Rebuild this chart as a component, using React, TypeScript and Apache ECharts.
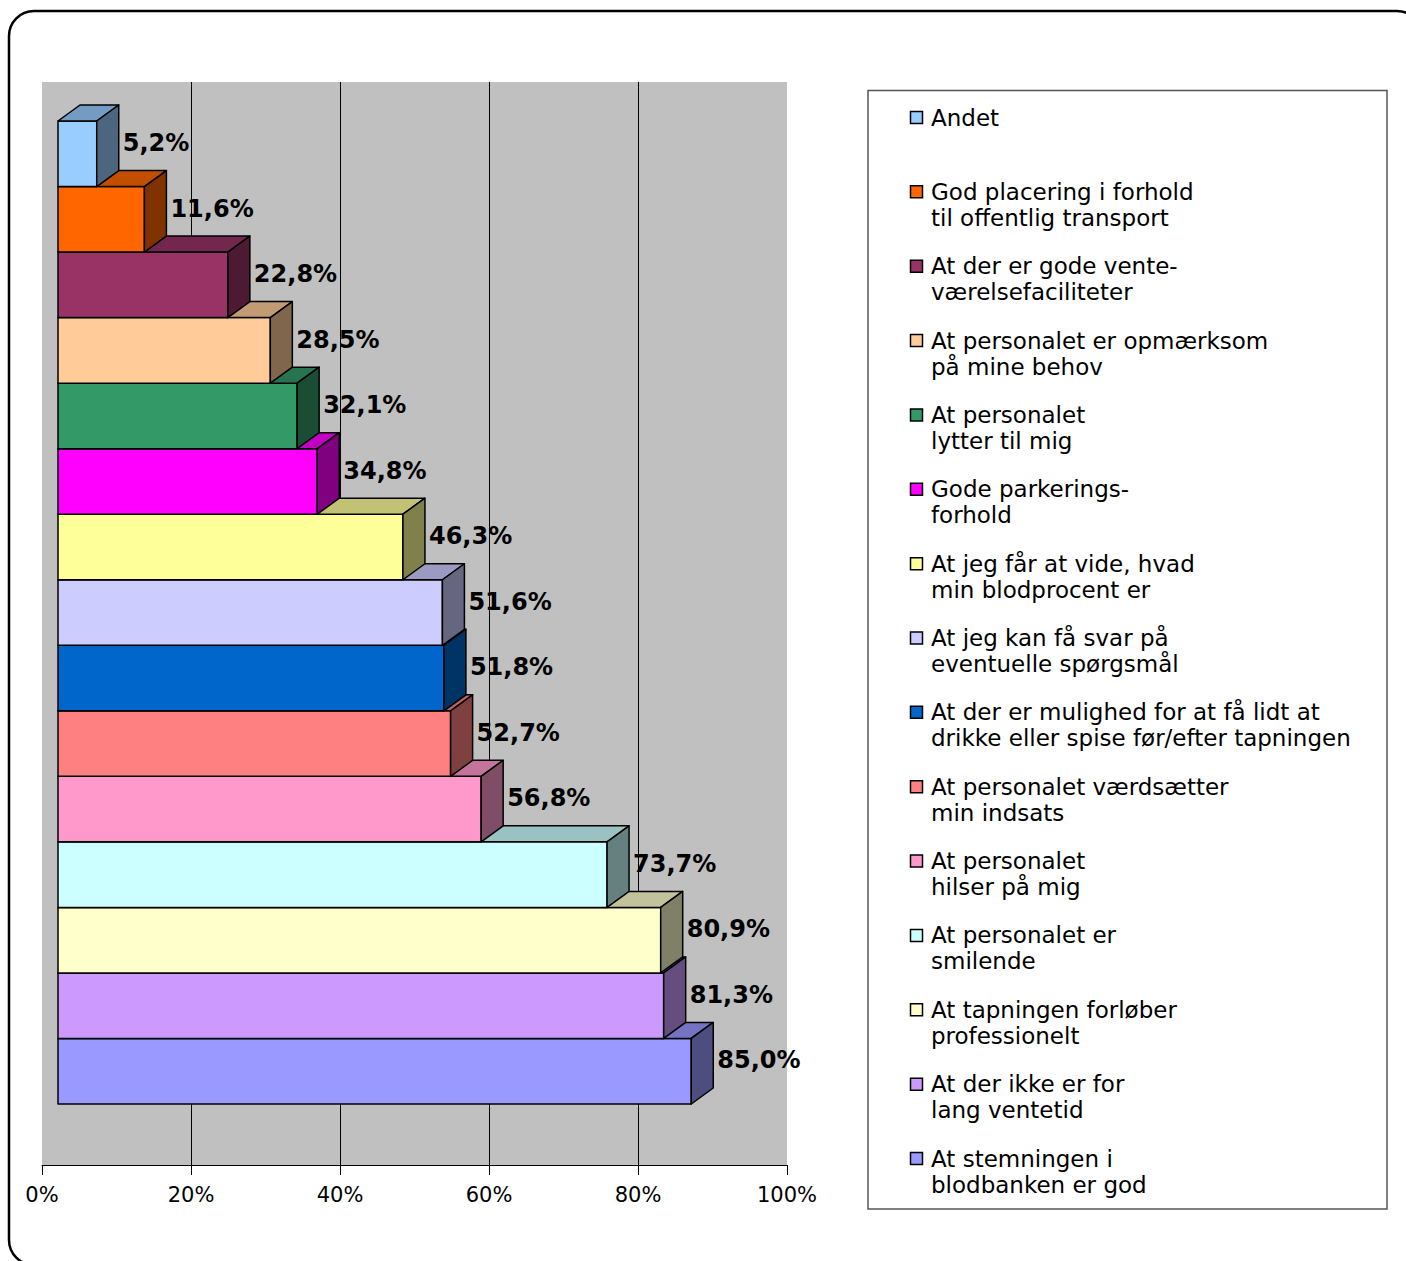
import React, { useEffect, useRef } from "react";
import * as echarts from "echarts";

// Categories listed from top to bottom (same order as the legend)
const categories: string[] = [
  "Andet",
  "God placering i forhold\ntil offentlig transport",
  "At der er gode vente-\nværelsefaciliteter",
  "At personalet er opmærksom\npå mine behov",
  "At personalet\nlytter til mig",
  "Gode parkerings-\nforhold",
  "At jeg får at vide, hvad\nmin blodprocent er",
  "At jeg kan få svar på\neventuelle spørgsmål",
  "At der er mulighed for at få lidt at\ndrikke eller spise før/efter tapningen",
  "At personalet værdsætter\nmin indsats",
  "At personalet\nhilser på mig",
  "At personalet er\nsmilende",
  "At tapningen forløber\nprofessionelt",
  "At der ikke er for\nlang ventetid",
  "At stemningen i\nblodbanken er god",
];

const values: number[] = [5.2, 11.6, 22.8, 28.5, 32.1, 34.8, 46.3, 51.6, 51.8, 52.7, 56.8, 73.7, 80.9, 81.3, 85.0];

const colors: string[] = [
  "#99CCFF",
  "#FF6600",
  "#993366",
  "#FFCC99",
  "#339966",
  "#FF00FF",
  "#FFFF99",
  "#CCCCFF",
  "#0066CC",
  "#FF8080",
  "#FF99CC",
  "#CCFFFF",
  "#FFFFCC",
  "#CC99FF",
  "#9999FF",
];

const axisMin = 0;
const axisMax = 100;
const axisStep = 20;

const FONT = '"DejaVu Sans", Verdana, sans-serif';

function shade(hex: string, f: number): string {
  const n = parseInt(hex.slice(1), 16);
  const r = Math.round(((n >> 16) & 255) * f);
  const g = Math.round(((n >> 8) & 255) * f);
  const b = Math.round((n & 255) * f);
  return "rgb(" + r + "," + g + "," + b + ")";
}

function fmt(v: number): string {
  return v.toFixed(1).replace(".", ",") + "%";
}

export default function App() {
  const ref = useRef<HTMLDivElement>(null);

  useEffect(() => {
    if (!ref.current) return;
    const chart = echarts.init(ref.current, undefined, { renderer: "svg" });

    const FRONT_SHIFT = 16;
    const DX = 22;
    const DY = 16;

    const legendGraphics: any[] = [
      {
        type: "rect",
        shape: { x: 868, y: 90.5, width: 519, height: 1118.5 },
        style: { fill: "#fff", stroke: "#555", lineWidth: 1.5 },
        z: 10,
      },
    ];
    const step = (1158 - 117) / 14;
    categories.forEach((name, i) => {
      const c = 117.5 + i * step;
      legendGraphics.push({
        type: "rect",
        shape: { x: 910.5, y: c - 6, width: 12, height: 12 },
        style: { fill: colors[i], stroke: "#000", lineWidth: 1.5 },
        z: 11,
      });
      legendGraphics.push({
        type: "text",
        x: 931,
        y: c - 13,
        style: {
          text: name,
          fill: "#000",
          fontSize: 23,
          fontFamily: FONT,
          lineHeight: 26,
          align: "left",
          verticalAlign: "top",
        },
        z: 11,
      });
    });

    const option: any = {
      animation: false,
      backgroundColor: "#fff",
      grid: [
        {
          left: 42,
          top: 82,
          width: 745,
          height: 1083,
          show: true,
          backgroundColor: "#C0C0C0",
          borderWidth: 0,
        },
        {
          left: 42,
          top: 121,
          width: 745,
          height: 983,
          show: false,
        },
      ],
      xAxis: [
        {
          type: "value",
          gridIndex: 0,
          min: axisMin,
          max: axisMax,
          interval: axisStep,
          axisLine: { show: true, lineStyle: { color: "#000", width: 1 } },
          axisTick: { show: true, length: 10, lineStyle: { color: "#000", width: 1 } },
          axisLabel: {
            formatter: "{value}%",
            color: "#000",
            fontSize: 21,
            fontFamily: FONT,
            margin: 19,
          },
          splitLine: {
            show: true,
            showMinLine: false,
            showMaxLine: false,
            lineStyle: { color: "#000", width: 1 },
          },
        },
        {
          type: "value",
          gridIndex: 1,
          min: axisMin,
          max: axisMax,
          show: false,
          splitLine: { show: false },
        },
      ],
      yAxis: [
        {
          type: "value",
          gridIndex: 0,
          show: false,
          splitLine: { show: false },
        },
        {
          type: "category",
          gridIndex: 1,
          data: categories,
          inverse: true,
          show: false,
        },
      ],
      series: [
        {
          type: "custom",
          xAxisIndex: 1,
          yAxisIndex: 1,
          clip: false,
          encode: { x: 0, y: 1 },
          data: values.map((v, i) => [v, i]).reverse(),
          renderItem: (params: any, api: any) => {
            const v = api.value(0);
            const idx = api.value(1);
            const p0 = api.coord([0, idx]);
            const p1 = api.coord([v, idx]);
            const bandH = api.size([0, 1])[1];
            const x0 = p0[0] + FRONT_SHIFT;
            const x1 = p1[0] + FRONT_SHIFT;
            const yTop = p0[1] - bandH / 2;
            const yBot = p0[1] + bandH / 2;
            const col = colors[idx];
            const edge = { stroke: "#000", lineWidth: 1.5, lineJoin: "round" };
            return {
              type: "group",
              children: [
                {
                  type: "polygon",
                  shape: { points: [[x0, yTop], [x1, yTop], [x1, yBot], [x0, yBot]] },
                  style: { fill: col, ...edge },
                },
                {
                  type: "polygon",
                  shape: {
                    points: [
                      [x0, yTop],
                      [x0 + DX, yTop - DY],
                      [x1 + DX, yTop - DY],
                      [x1, yTop],
                    ],
                  },
                  style: { fill: shade(col, 0.76), ...edge },
                },
                {
                  type: "polygon",
                  shape: {
                    points: [
                      [x1, yTop],
                      [x1 + DX, yTop - DY],
                      [x1 + DX, yBot - DY],
                      [x1, yBot],
                    ],
                  },
                  style: { fill: shade(col, 0.5), ...edge },
                },
                {
                  type: "text",
                  x: x1 + DX + 4,
                  y: yTop + 22,
                  z2: 100,
                  style: {
                    text: fmt(v),
                    fill: "#000",
                    fontSize: 24,
                    fontWeight: "bold",
                    fontFamily: FONT,
                    align: "left",
                    verticalAlign: "middle",
                  },
                },
              ],
            };
          },
        },
      ],
      graphic: [
        {
          type: "rect",
          shape: { x: 9, y: 11, width: 1413, height: 1254, r: 25 },
          style: { fill: "none", stroke: "#000", lineWidth: 2.5 },
          z: 20,
        },
        ...legendGraphics,
      ],
    };

    chart.setOption(option);
    return () => {
      chart.dispose();
    };
  }, []);

  return (
    <div
      ref={ref}
      style={{
        position: "fixed",
        left: 0,
        top: 0,
        width: "1406px",
        height: "1261px",
        background: "#fff",
      }}
    />
  );
}
